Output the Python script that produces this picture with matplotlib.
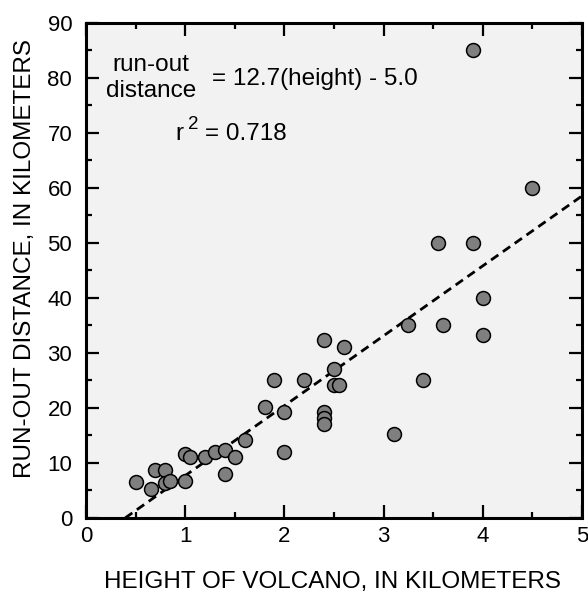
import matplotlib
matplotlib.use("Agg")
import matplotlib.pyplot as plt
import numpy as np
from matplotlib.ticker import MultipleLocator

plt.rcParams['font.family'] = ['Liberation Sans', 'DejaVu Sans']

# height of volcano (km) and run-out distance (km)
height = [0.5, 0.65, 0.7, 0.8, 0.8, 0.85, 1.0, 1.0, 1.05, 1.2, 1.3, 1.4, 1.4, 1.5, 1.6,
          1.8, 1.9, 2.0, 2.0, 2.2, 2.4, 2.4, 2.4, 2.4, 2.5, 2.5, 2.55, 2.6, 3.1, 3.25,
          3.4, 3.55, 3.6, 3.9, 3.9, 4.0, 4.0, 4.5]
runout = [6.6, 5.3, 8.8, 8.8, 6.3, 6.8, 6.8, 11.6, 11.1, 11.1, 12.0, 12.4, 8.0, 11.1, 14.2,
          20.1, 25.0, 19.3, 12.0, 25.0, 32.3, 19.3, 18.1, 17.0, 27.0, 24.2, 24.2, 31.0, 15.2, 35.0,
          25.0, 50.0, 35.0, 85.0, 50.0, 40.0, 33.2, 60.0]

# fit line from the chart: run-out = 12.7*height - 5.0
slope = 12.7
intercept = -5.0
r2 = 0.718

fig = plt.figure(figsize=(5.88, 5.97), dpi=100)
ax = fig.add_axes([0.1463, 0.1323, 0.8435, 0.830])
ax.set_facecolor('#f2f2f2')

x_fit = np.array([-intercept / slope, 5.0])
ax.plot(x_fit, slope * x_fit + intercept, color='black', lw=2.0, ls=(0, (3.2, 2.0)), zorder=2)

ax.scatter(height, runout, s=100, color='#7f7f7f', edgecolors='black', linewidths=1.1, zorder=3)

ax.set_xlim(0, 5)
ax.set_ylim(0, 90)
ax.xaxis.set_major_locator(MultipleLocator(1))
ax.xaxis.set_minor_locator(MultipleLocator(0.5))
ax.yaxis.set_major_locator(MultipleLocator(10))
ax.yaxis.set_minor_locator(MultipleLocator(5))
ax.tick_params(which='both', direction='in', top=True, right=True, width=1.6, labelsize=16)
ax.tick_params(which='major', length=9.5)
ax.tick_params(which='minor', length=4.5)
ax.tick_params(axis='x', pad=6)
ax.tick_params(axis='y', pad=10)
for s in ax.spines.values():
    s.set_linewidth(2.2)

ax.set_xlabel('HEIGHT OF VOLCANO, IN KILOMETERS', fontsize=17.5, va='center')
ax.xaxis.set_label_coords(0.496, -0.129)
ax.set_ylabel('RUN-OUT DISTANCE, IN KILOMETERS', fontsize=17.5, va='center')
ax.yaxis.set_label_coords(-0.123, 0.523)

# equation text
ax.text(0.655, 81.2, 'run-out', fontsize=17.5, ha='center', va='baseline')
ax.text(0.655, 76.5, 'distance', fontsize=17.5, ha='center', va='baseline')
ax.text(1.27, 78.6, '= %.1f(height) - %.1f' % (slope, -intercept), fontsize=17.5, ha='left', va='baseline')
ax.text(0.897, 68.65, 'r', fontsize=17.5, ha='left', va='baseline')
ax.text(1.028, 70.6, '2', fontsize=13.5, ha='left', va='baseline')
ax.text(1.20, 68.65, '= %.3f' % r2, fontsize=17.5, ha='left', va='baseline')

fig.savefig('out.png', dpi=100)
